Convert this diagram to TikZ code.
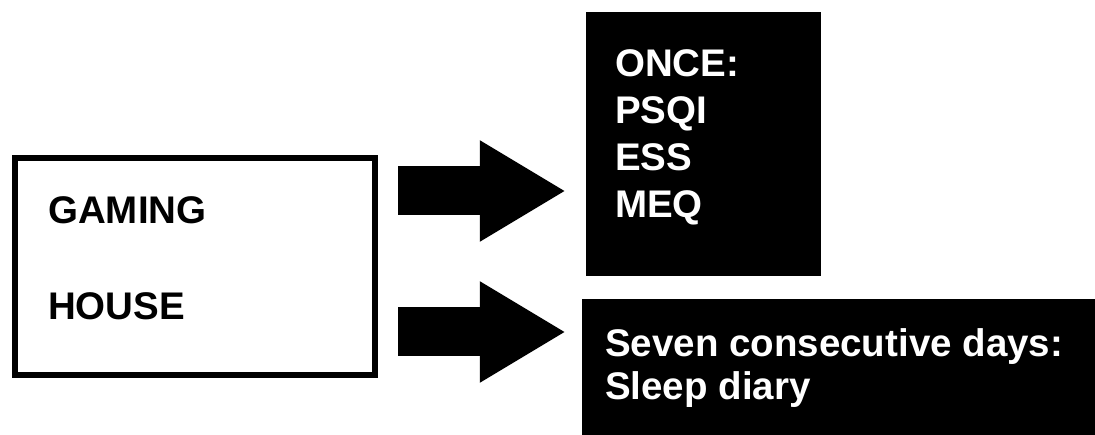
\documentclass[tikz,border=0pt]{standalone}
\usepackage{fontspec}
\setmainfont{Liberation Sans}
\usetikzlibrary{calc,positioning,arrows.meta}
\tikzstyle{outline} = [draw, line width=6pt, minimum width=360pt, minimum height=217pt, inner sep=0pt]
\tikzstyle{dark} = [fill=black, inner sep=0pt]
\tikzstyle{txt} = [inner sep=0pt, align=left, font=\bfseries\fontsize{38.5}{47}\selectfont]
\tikzstyle{fat} = [line width=49pt, -{Triangle[length=86pt,width=95pt]}]

\begin{document}
\begin{tikzpicture}[x=1pt,y=1pt]
    \useasboundingbox (0,0) rectangle (1095,435);

    \node [outline] (house) at (195,168.5) {};
    \node [txt, anchor=base west] (gaming) at (48,211) {GAMING};
    \node [txt, anchor=base west] (housetxt) at (48,115) {HOUSE};

    \node [dark, minimum width=235pt, minimum height=264pt] (once) at (703.5,291) {};
    \node [txt, white, anchor=base west] (oncetxt) at (615,217) {ONCE:\\PSQI\\ESS\\MEQ};

    \node [dark, minimum width=513pt, minimum height=136pt] (diary) at (838.5,68) {};
    \node [txt, white, anchor=base west, font=\bfseries\fontsize{38.5}{43}\selectfont] (diarytxt) at (605,35) {Seven consecutive days:\\Sleep diary};

    \coordinate (s1) at ($(house.east)+(0,75.5)$);
    \coordinate (s2) at ($(house.east)+(0,-65.5)$);
    \draw [fat, shorten <=20pt, shorten >=20pt] (s1) -- (s1 -| once.west);
    \draw [fat, shorten <=20pt, shorten >=16pt] (s2) -- (s2 -| diary.west);
\end{tikzpicture}
\end{document}
